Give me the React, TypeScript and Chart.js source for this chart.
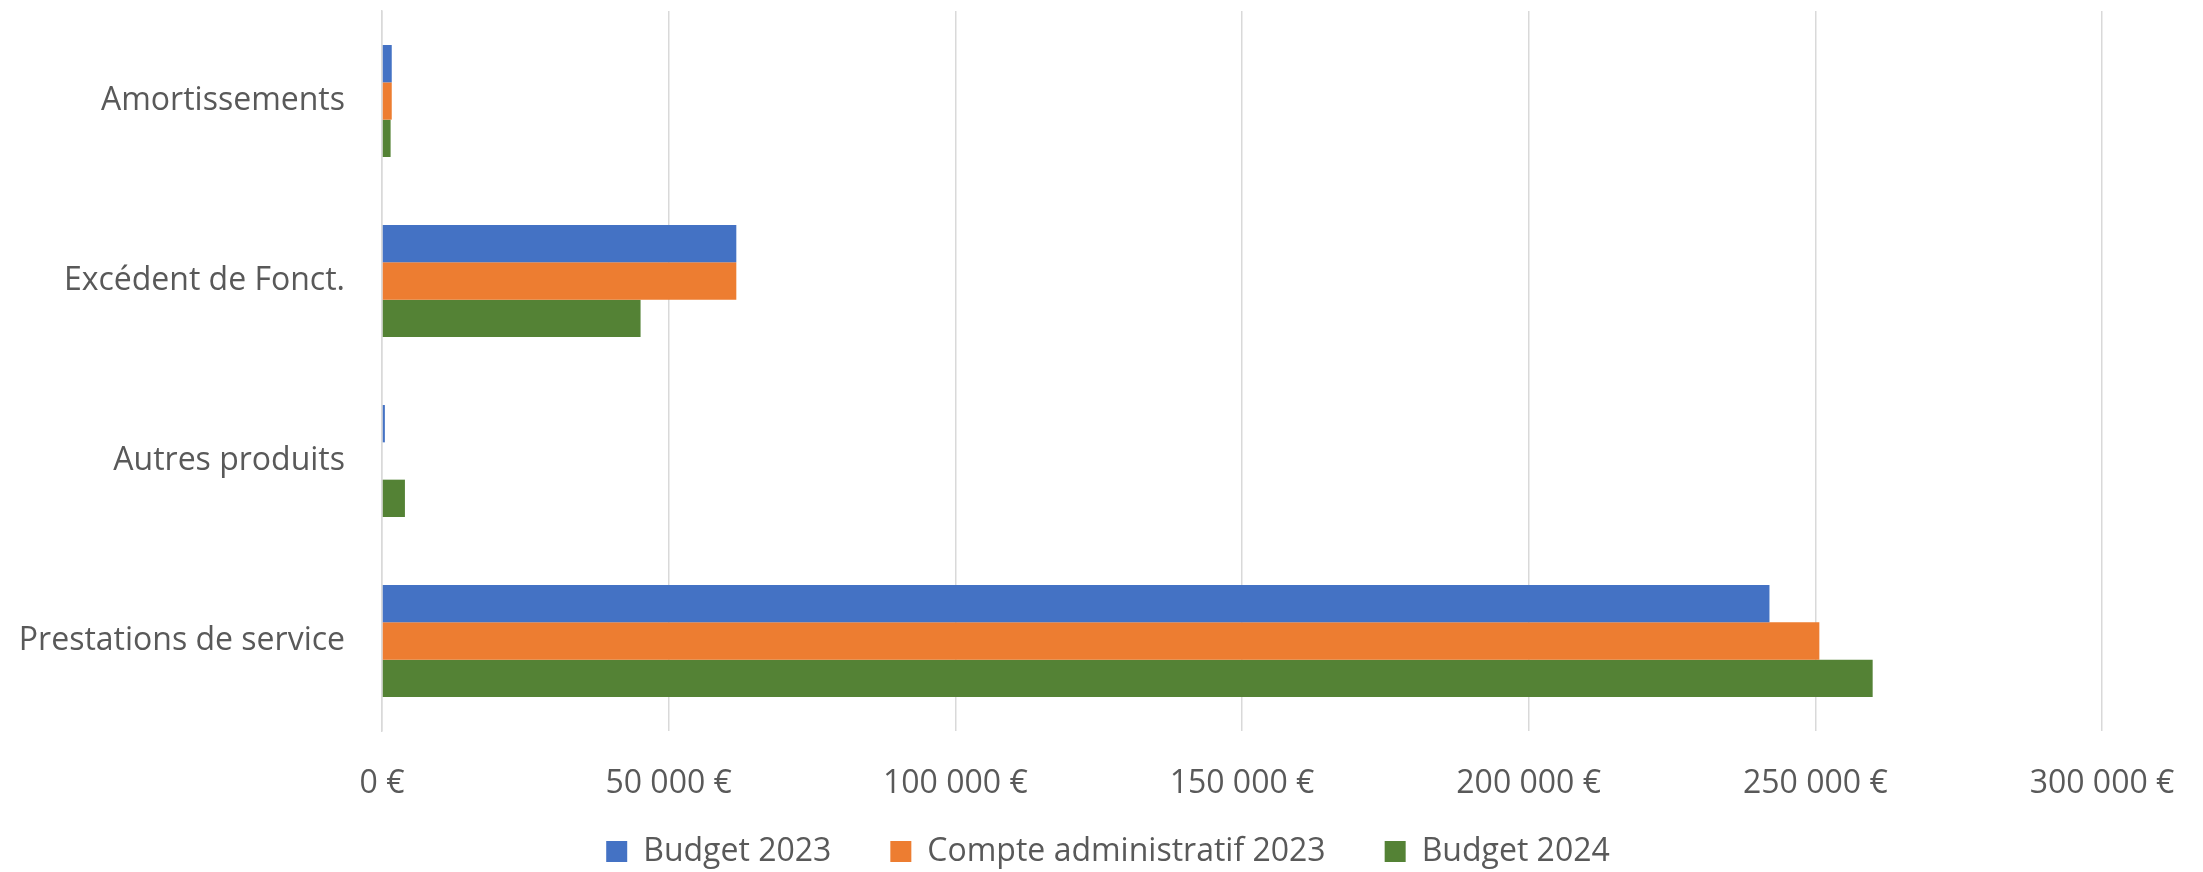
import React, { useEffect, useRef } from "react";
import { Chart, registerables } from "chart.js";

Chart.register(...registerables);

const categories = ["Amortissements", "Excédent de Fonct.", "Autres produits", "Prestations de service"];
const budget2023 = [1700, 61800, 500, 242000];
const compteAdmin2023 = [1700, 61800, 0, 250700];
const budget2024 = [1500, 45100, 4000, 260000];
const seriesNames = ["Budget 2023", "Compte administratif 2023", "Budget 2024"];
const xTicksMax = 300000;
const xTicksStep = 50000;

const FONT = "'Open Sans', 'DejaVu Sans', sans-serif";
const TEXT = "#595959";
const FS = 32;
const LEG_PAD = 59;
const X_TICK_PAD = 34;
const X_AXIS_H = 73;
const LEGEND_H = 68;
const LEGEND_SHIFT_Y = -27.5;
const LEGEND_SHIFT_X = 57;

function fmt(v: number): string {
  const s = Math.round(v).toString().replace(/\B(?=(\d{3})+(?!\d))/g, " ");
  return s + " €";
}

const legendPlacePlugin = {
  id: "legendPlace",
  beforeLayout(chart: any) {
    const lg = chart.legend;
    if (lg && !lg.__patched) {
      const orig = lg.fit.bind(lg);
      lg.fit = function () {
        orig();
        this.height = LEGEND_H;
      };
      lg.__patched = true;
    }
  },
  afterLayout(chart: any) {
    const lg = chart.legend;
    if (!lg) return;
    lg.top += LEGEND_SHIFT_Y;
    lg.left += LEGEND_SHIFT_X;
    lg.right += LEGEND_SHIFT_X;
  },
};

export default function App() {
  const ref = useRef<HTMLCanvasElement | null>(null);
  useEffect(() => {
    if (!ref.current) return;
    const chart = new Chart(ref.current, {
      type: "bar",
      data: {
        labels: categories,
        datasets: [
          { label: seriesNames[0], data: budget2023, backgroundColor: "#4472C4" },
          { label: seriesNames[1], data: compteAdmin2023, backgroundColor: "#ED7D31" },
          { label: seriesNames[2], data: budget2024, backgroundColor: "#548235" },
        ],
      },
      plugins: [legendPlacePlugin],
      options: {
        indexAxis: "y",
        responsive: false,
        animation: false,
        maintainAspectRatio: false,
        layout: { padding: { top: 11, right: 101, bottom: 0, left: 0 } },
        datasets: { bar: { barPercentage: 1, categoryPercentage: 0.622 } },
        scales: {
          x: {
            min: 0,
            max: xTicksMax,
            ticks: {
              stepSize: xTicksStep,
              color: TEXT,
              font: { family: FONT, size: FS },
              padding: X_TICK_PAD,
              callback: (v: any) => fmt(Number(v)),
              maxRotation: 0,
            },
            grid: { color: "#d9d9d9", lineWidth: 1.5, drawTicks: false },
            border: { display: false },
            afterFit: (scale: any) => {
              scale.height = X_AXIS_H;
              scale.paddingTop = 0;
              scale.paddingBottom = 0;
              scale.paddingLeft = 0;
              scale.paddingRight = 0;
            },
          },
          y: {
            ticks: {
              color: TEXT,
              font: { family: FONT, size: FS },
              padding: 37,
            },
            grid: { display: false, drawTicks: false },
            border: { display: true, color: "#d9d9d9", width: 1.5 },
            afterFit: (scale: any) => {
              scale.width = 382;
              scale.paddingTop = 0;
              scale.paddingBottom = 0;
            },
          },
        },
        plugins: {
          legend: {
            position: "bottom",
            labels: {
              color: TEXT,
              font: { family: FONT, size: FS },
              boxWidth: 21,
              boxHeight: 21,
              padding: LEG_PAD,
            },
          },
          tooltip: { enabled: false },
        },
      },
    });
    return () => chart.destroy();
  }, []);
  return (
    <div style={{ position: "fixed", left: 0, top: 0, width: 2203, height: 872, background: "#fff" }}>
      <canvas ref={ref} width={2203} height={872} style={{ width: 2203, height: 872 }} />
    </div>
  );
}
